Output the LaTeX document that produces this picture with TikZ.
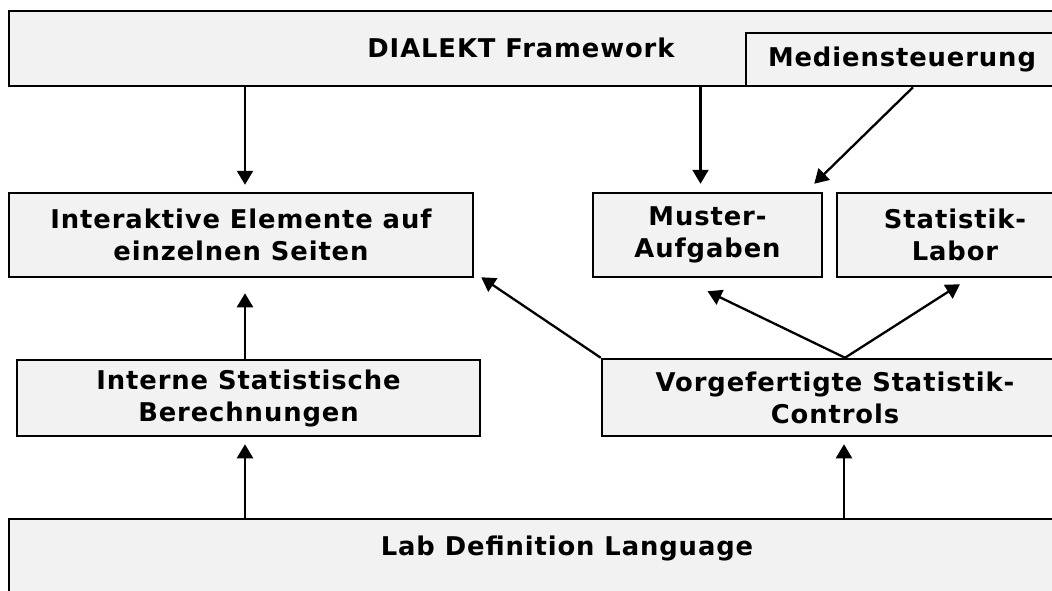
\documentclass[tikz,border=0pt]{standalone}
\usepackage{fontspec}
\setmainfont{DejaVu Sans}[LetterSpace=3.5]
\usetikzlibrary{arrows.meta,calc}
\definecolor{boxgray}{HTML}{F2F2F2}
\begin{document}
\begin{tikzpicture}[x=1pt,y=-1pt,
  lbl/.style={font=\bfseries\fontsize{25.8}{32}\selectfont, align=center, inner sep=0pt},
  box/.style={lbl, draw=black, line width=2.5pt, fill=boxgray},
  arr/.style={line width=2.3pt, -{Triangle[length=14pt,width=16pt]}}]
\useasboundingbox (0,0) rectangle (1052,590);
\clip (0,0) rectangle (1052,590);
\fill[white] (0,0) rectangle (1052,590);
% boxes
\node[box, minimum width=1100pt, minimum height=75pt] (top) at (559,48.5) {};
\node[lbl] (toptext) at (521,48) {DIALEKT Framework};
\node[box, minimum width=312pt, minimum height=53pt] (medien) at (902,59.5) {Mediensteuerung};
\node[box, minimum width=464pt, minimum height=84pt] (inter) at (241,235) {Interaktive Elemente auf\\einzelnen Seiten};
\node[box, minimum width=229pt, minimum height=84pt] (muster) at (707.5,235) {Muster-\\Aufgaben};
\node[box, minimum width=236pt, minimum height=84pt] (stat) at (955,235) {Statistik-\\Labor};
\node[box, minimum width=463pt, minimum height=76pt] (interne) at (248.5,398) {Interne Statistische\\Berechnungen};
\node[box, minimum width=466pt, minimum height=77pt] (vorg) at (835,397.5) {Vorgefertigte Statistik-\\Controls};
\node[box, minimum width=1116pt, minimum height=100pt] (ldl) at (567,569) {};
\node[lbl] (ldltext) at (567,548) {Lab Definition Language};
% helper coordinates
\coordinate (c1) at ($(inter.north)+(4,0)$);
\coordinate (c2) at ($(muster.north)+(-7,0)$);
\coordinate (c3) at ($(interne.north)+(-3.5,0)$);
\coordinate (c4) at ($(interne.south)+(-3.5,0)$);
\coordinate (c5) at ($(vorg.south)+(9,0)$);
\coordinate (c6) at ($(vorg.north)+(10,0)$);
% connectors
\draw[arr, shorten >=7pt] (c1 |- top.south) -- (c1);
\draw[arr, shorten >=8pt] (c2 |- top.south) -- (c2);
\draw[arr] ($(medien.south)+(11,0)$) -- ($(muster.north east)+(-9,-8)$);
\draw[arr, shorten >=15pt] (c3) -- (c3 |- inter.south);
\draw[arr] (vorg.north west) -- ($(inter.south east)+(7,-1)$);
\draw[arr] (c6) -- ($(muster.south)+(0,13)$);
\draw[arr] (c6) -- ($(stat.south)+(5,6)$);
\draw[arr, shorten >=7pt] (c4 |- ldl.north) -- (c4);
\draw[arr, shorten >=7pt] (c5 |- ldl.north) -- (c5);
\end{tikzpicture}
\end{document}
